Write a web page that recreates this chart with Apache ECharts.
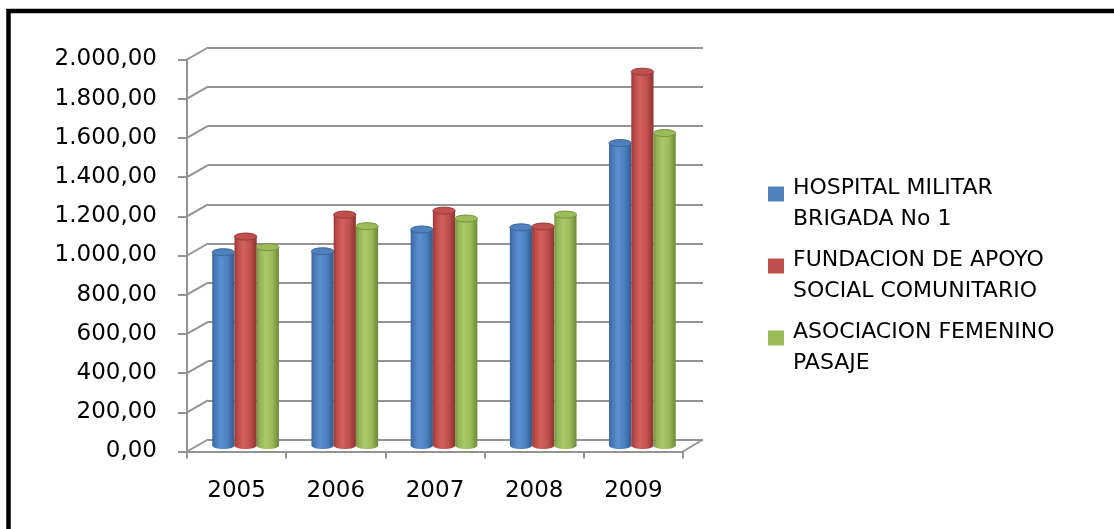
<!DOCTYPE html>
<html>
<head>
<meta charset="utf-8">
<script src="https://cdn.jsdelivr.net/npm/echarts@6/dist/echarts.min.js"></script>
<style>
  html, body { margin: 0; padding: 0; background: #ffffff; }
  #chart { width: 1114px; height: 529px; }
</style>
</head>
<body>
<div id="chart"></div>
<script>
// ---- data ----
const categories = ['2005', '2006', '2007', '2008', '2009'];
const seriesNames = ['HOSPITAL MILITAR\nBRIGADA No 1', 'FUNDACION DE APOYO\nSOCIAL COMUNITARIO', 'ASOCIACION FEMENINO\nPASAJE'];
const hospitalMilitar = [986, 991, 1102, 1113, 1543];
const fundacionApoyo = [1066, 1178, 1198, 1117, 1907];
const asociacionFemenino = [1012, 1119, 1158, 1178, 1594];
const yTicks = [0, 200, 400, 600, 800, 1000, 1200, 1400, 1600, 1800, 2000];

// ---- styles ----
const baseColors = ['#4f81bd', '#c0504d', '#9bbb59'];
const bodyStops = [
  ['#38659c', '#4a7bb8', '#5b90d1', '#4c80bf', '#325a8e'],
  ['#983a38', '#bb4c49', '#d3625e', '#c0504d', '#8c3432'],
  ['#779442', '#94b556', '#aac968', '#9bbb59', '#6c8838']
];
const rimColors = ['#3a6699', '#963b39', '#77933f'];
const GRID_COLOR = '#939393';
const DX = 21, DY = 12;

function fmtEs(v) {
  const s = String(Math.round(v));
  const withDots = s.replace(/\B(?=(\d{3})+(?!\d))/g, '.');
  return withDots + ',00';
}

function cylinderRenderer(s) {
  return function (params, api) {
    const idx = api.value(0);
    const base = api.coord([idx, 0]);
    const top = api.coord([idx, api.value(1)]);
    const band = api.size([1, 0])[0];
    const w = band * 0.224;
    const cx = base[0] + (s - 1) * w;
    const left = cx - w / 2;
    const ry = 3.5;
    const st = bodyStops[s];
    const grad = new echarts.graphic.LinearGradient(0, 0, 1, 0, [
      { offset: 0, color: st[0] },
      { offset: 0.15, color: st[1] },
      { offset: 0.4, color: st[2] },
      { offset: 0.7, color: st[3] },
      { offset: 1, color: st[4] }
    ]);
    return {
      type: 'group',
      children: [
        { type: 'ellipse', shape: { cx: cx, cy: base[1], rx: w / 2, ry: ry }, style: { fill: grad } },
        { type: 'rect', shape: { x: left, y: top[1], width: w, height: base[1] - top[1] }, style: { fill: grad } },
        { type: 'ellipse', shape: { cx: cx, cy: top[1], rx: w / 2, ry: ry },
          style: { fill: baseColors[s], stroke: rimColors[s], lineWidth: 1 } }
      ]
    };
  };
}

function diagonalRenderer(params, api) {
  const cs = params.coordSys;
  const v = api.value(0);
  const y = api.coord([0, v])[1];
  const children = [
    { type: 'line', shape: { x1: cs.x, y1: y, x2: cs.x + DX, y2: y - DY },
      style: { stroke: GRID_COLOR, lineWidth: 2 } }
  ];
  if (v === 0) {
    children.push({ type: 'line',
      shape: { x1: cs.x + cs.width, y1: y, x2: cs.x + cs.width + DX - 1, y2: y - DY },
      style: { stroke: GRID_COLOR, lineWidth: 2 } });
  }
  return { type: 'group', children: children };
}

const seriesValues = [hospitalMilitar, fundacionApoyo, asociacionFemenino];
const cylSeries = seriesValues.map(function (vals, s) {
  return {
    type: 'custom',
    name: seriesNames[s],
    xAxisIndex: 2, yAxisIndex: 2,
    itemStyle: { color: baseColors[s] },
    renderItem: cylinderRenderer(s),
    encode: { x: 0, y: 1 },
    data: vals.map(function (v, i) { return [i, v]; }),
    z: 5
  };
});

const chart = echarts.init(document.getElementById('chart'), null, { renderer: 'canvas' });
const textFont = 'DejaVu Sans';
const valAxisBase = { type: 'value', min: 0, max: 2000, interval: 200 };

chart.setOption({
  animation: false,
  backgroundColor: '#ffffff',
  textStyle: { fontFamily: textFont },
  graphic: [{
    type: 'polyline', z: 100,
    shape: { points: [[8.5, 2000], [8.5, 11], [3000, 11]] },
    style: { fill: 'none', stroke: '#000000', lineWidth: 4.5 }
  }],
  grid: [
    { left: 187, top: 59.5, width: 496, height: 392 },   // front plane (axes)
    { left: 208, top: 47.5, width: 495, height: 392 },   // back wall
    { left: 196, top: 53.5, width: 496, height: 392 }    // bar plane
  ],
  xAxis: [
    { type: 'category', gridIndex: 0, data: categories, boundaryGap: true,
      axisLine: { show: true, lineStyle: { color: GRID_COLOR, width: 2 } },
      axisTick: { show: true, length: 7, alignWithLabel: false, lineStyle: { color: GRID_COLOR, width: 2 } },
      axisLabel: { margin: 28, color: '#000000', fontSize: 23, fontFamily: textFont },
      splitLine: { show: false } },
    { type: 'category', gridIndex: 1, data: categories, show: false },
    { type: 'category', gridIndex: 2, data: categories, show: false }
  ],
  yAxis: [
    Object.assign({}, valAxisBase, { gridIndex: 0,
      axisLine: { show: true, lineStyle: { color: GRID_COLOR, width: 2 } },
      axisTick: { show: true, length: 9, lineStyle: { color: GRID_COLOR, width: 2 } },
      axisLabel: { margin: 30, color: '#000000', fontSize: 23, fontFamily: textFont, formatter: fmtEs },
      splitLine: { show: false } }),
    Object.assign({}, valAxisBase, { gridIndex: 1,
      axisLine: { show: false }, axisTick: { show: false }, axisLabel: { show: false },
      splitLine: { show: true, lineStyle: { color: GRID_COLOR, width: 2 } } }),
    Object.assign({}, valAxisBase, { gridIndex: 2, show: false, splitLine: { show: false } })
  ],
  legend: {
    orient: 'vertical',
    left: 763, top: 168,
    itemWidth: 16, itemHeight: 35,
    itemGap: 10,
    icon: 'path://M0,0h16v15h-16z M0,35h0.001v0.001h-0.001z',
    data: seriesNames,
    textStyle: { fontFamily: textFont, fontSize: 22, color: '#000000', lineHeight: 31, padding: [0, 0, 0, 4] }
  },
  series: [
    {
      type: 'custom', xAxisIndex: 0, yAxisIndex: 0,
      renderItem: diagonalRenderer,
      encode: { y: 0 },
      data: yTicks.map(function (v) { return [v]; }),
      silent: true, z: 1
    }
  ].concat(cylSeries)
});
</script>
</body>
</html>
